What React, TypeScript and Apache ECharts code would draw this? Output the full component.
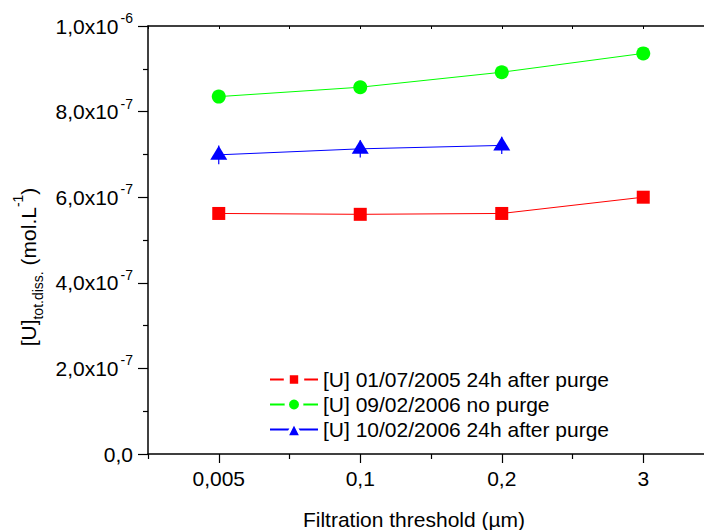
import React, { useEffect, useRef } from "react";
import * as echarts from "echarts";

const categories = ["0,005", "0,1", "0,2", "3"];
const seriesNames = [
  "[U] 01/07/2005 24h after purge",
  "[U] 09/02/2006 no purge",
  "[U] 10/02/2006 24h after purge",
];
const redValues = [5.62e-7, 5.6e-7, 5.62e-7, 6.0e-7];
const greenValues = [8.35e-7, 8.57e-7, 8.92e-7, 9.36e-7];
const blueValues = [6.99e-7, 7.13e-7, 7.21e-7];
const blueErrors = [2.2e-8, 2.0e-8, 2.0e-8];
const yMin = 0;
const yMax = 1e-6;
const yInterval = 2e-7;

const FONT = "Liberation Sans, Arial, sans-serif";

function sciLabel(v: number): string {
  if (Math.abs(v) < 1e-15) return "{b|0,0}";
  const e = Math.floor(Math.log10(v) + 1e-9);
  const m = v / Math.pow(10, e);
  return `{b|${m.toFixed(1).replace(".", ",")}x10}{s|${e}}`;
}

export default function App() {
  const ref = useRef<HTMLDivElement>(null);
  useEffect(() => {
    if (!ref.current) return;
    const chart = echarts.init(ref.current, null, { renderer: "svg" });
    const gridRect = { left: 148, top: 26, width: 566, height: 428 };
    const option: any = {
      animation: false,
      backgroundColor: "#ffffff",
      textStyle: { fontFamily: FONT, color: "#000" },
      grid: [
        { ...gridRect, containLabel: false },
        { ...gridRect, containLabel: false },
      ],
      xAxis: [
        {
          type: "category",
          gridIndex: 0,
          position: "bottom",
          data: categories,
          boundaryGap: true,
          axisLine: { show: true, lineStyle: { color: "#000", width: 1.5 } },
          axisTick: { show: true, alignWithLabel: true, length: 9, lineStyle: { color: "#000", width: 1.2 } },
          axisLabel: { show: true, color: "#000", fontSize: 21, fontFamily: FONT, margin: 14 },
          splitLine: { show: false },
        },
        {
          type: "category",
          gridIndex: 0,
          position: "top",
          data: categories,
          boundaryGap: true,
          axisLine: { show: true, lineStyle: { color: "#000", width: 1.5 } },
          axisTick: { show: true, alignWithLabel: true, inside: true, length: 3, lineStyle: { color: "#000", width: 1 } },
          axisLabel: { show: false },
          splitLine: { show: false },
        },
        {
          type: "category",
          gridIndex: 1,
          position: "bottom",
          data: categories,
          boundaryGap: true,
          axisLine: { show: false },
          axisTick: { show: true, alignWithLabel: false, length: 5, lineStyle: { color: "#000", width: 1.2 } },
          axisLabel: { show: false },
          splitLine: { show: false },
        },
        {
          type: "category",
          gridIndex: 1,
          position: "top",
          data: categories,
          boundaryGap: true,
          axisLine: { show: false },
          axisTick: { show: true, alignWithLabel: false, inside: true, length: 3, lineStyle: { color: "#000", width: 1 } },
          axisLabel: { show: false },
          splitLine: { show: false },
        },
      ],
      yAxis: [
        {
          type: "value",
          gridIndex: 0,
          min: yMin,
          max: yMax,
          interval: yInterval,
          axisLine: { show: true, lineStyle: { color: "#000", width: 1.5 } },
          axisTick: { show: true, length: 10, lineStyle: { color: "#000", width: 1.2 } },
          minorTick: { show: true, splitNumber: 2, length: 5, lineStyle: { color: "#000", width: 1.2 } },
          splitLine: { show: false },
          minorSplitLine: { show: false },
          axisLabel: {
            show: true,
            margin: 15,
            formatter: (v: number) => sciLabel(v),
            rich: {
              b: { fontSize: 21, fontFamily: FONT, color: "#000", lineHeight: 30 },
              s: { fontSize: 14, fontFamily: FONT, color: "#000", lineHeight: 14, verticalAlign: "top", padding: [0, 0, 0, 2] },
            },
          },
        },
        {
          type: "value",
          gridIndex: 1,
          min: yMin,
          max: yMax,
          interval: yInterval,
          show: false,
        },
      ],
      legend: {
        left: 269,
        top: 369,
        padding: 0,
        orient: "vertical",
        itemWidth: 48,
        itemHeight: 18,
        itemGap: 4,
        data: [
          { name: seriesNames[0], itemStyle: { borderColor: "#ffffff", borderWidth: 6 } },
          { name: seriesNames[1], itemStyle: { borderColor: "#ffffff", borderWidth: 4.4 } },
          { name: seriesNames[2], itemStyle: { borderColor: "#ffffff", borderWidth: 3 } },
        ],
        textStyle: { fontSize: 21, fontFamily: FONT, color: "#000" },
      },
      series: [
        {
          name: "blue-err",
          type: "custom",
          xAxisIndex: 0,
          yAxisIndex: 0,
          z: 1,
          data: blueValues.map((v, i) => [i, v, blueErrors[i]]),
          encode: { x: 0, y: 1 },
          renderItem: (params: any, api: any) => {
            const x = api.value(0);
            const y = api.value(1);
            const e = api.value(2);
            const p1 = api.coord([x, y + e]);
            const p2 = api.coord([x, y - e]);
            return {
              type: "line",
              shape: { x1: p1[0], y1: p1[1], x2: p2[0], y2: p2[1] },
              style: { stroke: "#0000ff", lineWidth: 1.2 },
            };
          },
        },
        {
          name: seriesNames[0],
          type: "line",
          xAxisIndex: 0,
          yAxisIndex: 0,
          z: 3,
          data: redValues,
          symbol: "rect",
          symbolSize: 13,
          itemStyle: { color: "#ff0000" },
          lineStyle: { color: "#ff0000", width: 1 },
        },
        {
          name: seriesNames[1],
          type: "line",
          xAxisIndex: 0,
          yAxisIndex: 0,
          z: 3,
          data: greenValues,
          symbol: "circle",
          symbolSize: 14,
          itemStyle: { color: "#00ff00" },
          lineStyle: { color: "#00ff00", width: 1 },
        },
        {
          name: seriesNames[2],
          type: "line",
          xAxisIndex: 0,
          yAxisIndex: 0,
          z: 3,
          data: blueValues,
          symbol: "triangle",
          symbolSize: [17, 14],
          symbolOffset: [0, -2],
          itemStyle: { color: "#0000ff" },
          lineStyle: { color: "#0000ff", width: 1 },
        },
      ],
      graphic: [
        {
          type: "text",
          x: 414,
          y: 519,
          style: {
            text: "Filtration threshold (µm)",
            fontSize: 21,
            fontFamily: FONT,
            fill: "#000",
            align: "center",
            verticalAlign: "middle",
          },
        },
        {
          type: "text",
          x: 28,
          y: 267,
          rotation: Math.PI / 2,
          style: {
            text: "{m|[U]}{sub|tot.diss.}{m| (mol.L}{sup|-1}{m|)}",
            align: "center",
            verticalAlign: "middle",
            rich: {
              m: { fontSize: 21, fontFamily: FONT, fill: "#000", lineHeight: 34 },
              sub: { fontSize: 14, fontFamily: FONT, fill: "#000", lineHeight: 14, verticalAlign: "bottom" },
              sup: { fontSize: 14, fontFamily: FONT, fill: "#000", lineHeight: 14, verticalAlign: "top" },
            },
          },
        },
      ],
    };
    chart.setOption(option);
    return () => chart.dispose();
  }, []);
  return (
    <div style={{ position: "fixed", left: 0, top: 0, width: 704, height: 530, overflow: "hidden", background: "#fff" }}>
      <div ref={ref} style={{ width: 720, height: 530 }} />
    </div>
  );
}
